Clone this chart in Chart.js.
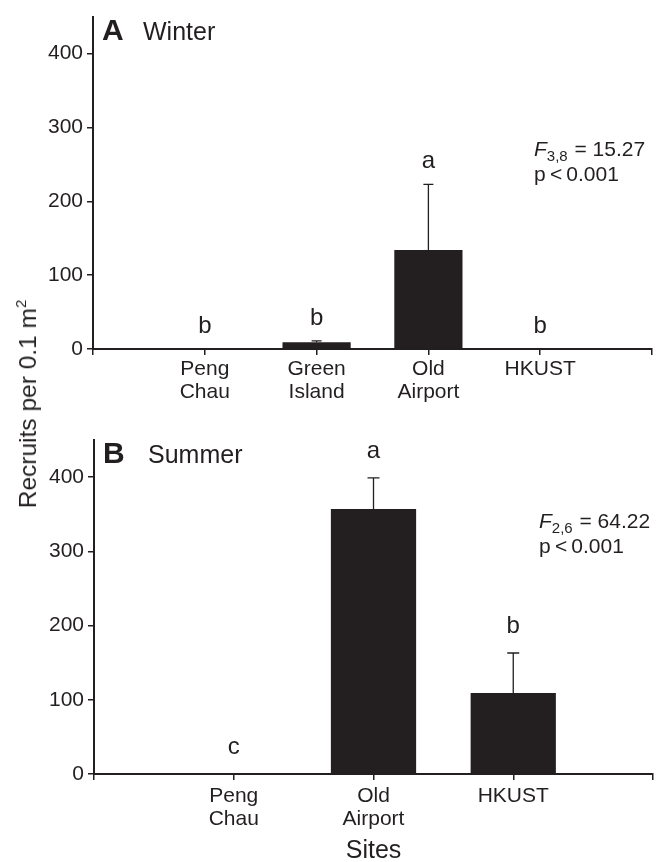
<!DOCTYPE html>
<html lang="en">
<head>
    <meta charset="UTF-8">
    <title>Recruits per site</title>
    <script src="https://cdn.jsdelivr.net/npm/chart.js"></script>
    <style>
        body { margin: 0; background: #fff; overflow: hidden; }
        #wrap { position: relative; width: 660px; height: 862px; overflow: hidden; font-family: "Liberation Sans", Arial, sans-serif; color: #231f20; }
        canvas { position: absolute; left: 0; }
        #ytitle {
            position: absolute; left: 27px; top: 404px;
            transform: translate(-50%, -50%) rotate(-90deg);
            white-space: nowrap; font-size: 24.5px;
        }
        #ytitle sup { font-size: 15px; vertical-align: 10px; }
    </style>
</head>
<body>
<div id="wrap">
    <canvas id="winter" width="660" height="410" style="top:0"></canvas>
    <canvas id="summer" width="660" height="446" style="top:420px"></canvas>
    <div id="ytitle">Recruits per 0.1 m<sup>2</sup></div>
</div>
<script>
    // data (mean and upper error)
    var winterSites = [['Peng', 'Chau'], ['Green', 'Island'], ['Old', 'Airport'], 'HKUST'];
    var winterMeans = [0, 9, 134, 0];
    var winterErrors = [0, 2, 89, 0];
    var winterLetters = ['b', 'b', 'a', 'b'];

    var summerSites = [['Peng', 'Chau'], ['Old', 'Airport'], 'HKUST'];
    var summerMeans = [0, 357, 109];
    var summerErrors = [0, 42, 54];
    var summerLetters = ['c', 'a', 'b'];

    var yTicks = [0, 100, 200, 300, 400];
    var yMax = 450;

    var ink = '#231f20';
    var fam = '"Liberation Sans", Arial, sans-serif';

    function makeChart(id, p) {
        // empty slots at both ends so the ticks sit like the original
        var labels = [''].concat(p.sites, ['']);
        var values = [null].concat(p.means, [null]);

        var extras = {
            id: 'extras',
            afterDatasetsDraw: function (chart) {
                var ctx = chart.ctx, x = chart.scales.x, y = chart.scales.y, area = chart.chartArea;
                ctx.save();
                ctx.strokeStyle = ink;
                ctx.fillStyle = ink;
                ctx.lineWidth = 1.3;
                for (var i = 0; i < p.means.length; i++) {
                    var px = x.getPixelForValue(i + 1);
                    var top = p.means[i] + p.errors[i];
                    if (p.errors[i] > 0) {
                        var y0 = y.getPixelForValue(p.means[i]), y1 = y.getPixelForValue(top);
                        ctx.beginPath();
                        ctx.moveTo(px, y0); ctx.lineTo(px, y1);
                        ctx.moveTo(px - p.cap, y1); ctx.lineTo(px + p.cap, y1);
                        ctx.stroke();
                    }
                    ctx.font = '24px ' + fam;
                    ctx.textAlign = 'center';
                    ctx.textBaseline = 'alphabetic';
                    ctx.fillText(p.letters[i], px, y.getPixelForValue(top) - p.gap);
                }
                // panel label
                ctx.textAlign = 'left';
                ctx.font = 'bold 30px ' + fam;
                ctx.fillText(p.panel, area.left + 9, area.top + 23);
                ctx.font = '25px ' + fam;
                ctx.fillText(p.season, area.left + p.seasonDx, area.top + 23);
                // test statistic
                var sx = area.left + p.statDx, sy = area.top + p.statDy;
                ctx.font = 'italic 21px ' + fam;
                ctx.fillText('F', sx, sy);
                var w = ctx.measureText('F').width;
                ctx.font = '15px ' + fam;
                ctx.fillText(p.df, sx + w, sy + 5);
                w += ctx.measureText(p.df).width;
                ctx.font = '21px ' + fam;
                ctx.fillText(' = ' + p.fval, sx + w + 1, sy);
                ctx.fillText('p\u2009<\u20090.001', sx, sy + 25);
                ctx.restore();
            }
        };

        return new Chart(document.getElementById(id).getContext('2d'), {
            type: 'bar',
            data: {
                labels: labels,
                datasets: [{
                    data: values,
                    backgroundColor: ink,
                    borderWidth: 0,
                    barPercentage: 0.61,
                    categoryPercentage: 1
                }]
            },
            options: {
                responsive: false,
                animation: false,
                layout: { padding: { top: p.padTop, right: p.padRight, left: 0, bottom: 0 } },
                plugins: { legend: { display: false }, tooltip: { enabled: false } },
                scales: {
                    x: {
                        offset: false,
                        grid: { offset: false, drawOnChartArea: false, drawTicks: true, tickLength: 6, color: ink, lineWidth: 1.5 },
                        border: { display: true, color: ink, width: 2 },
                        ticks: {
                            autoSkip: false, maxRotation: 0, padding: p.labelPad,
                            color: ink, font: { family: fam, size: 21, lineHeight: 1.1 }
                        },
                        title: {
                            display: !!p.xTitle, text: p.xTitle, color: ink,
                            font: { family: fam, size: 25 }, padding: 0
                        },
                        afterFit: function (s) { s.height = p.xHeight; }
                    },
                    y: {
                        min: 0,
                        max: yMax,
                        grid: { drawOnChartArea: false, drawTicks: true, tickLength: 6, color: ink, lineWidth: 1.5 },
                        border: { display: true, color: ink, width: 2 },
                        ticks: {
                            includeBounds: false, padding: 4,
                            color: ink, font: { family: fam, size: 21 }
                        },
                        afterBuildTicks: function (s) { s.ticks = yTicks.map(function (v) { return { value: v }; }); },
                        afterFit: function (s) { s.width = p.yWidth; }
                    }
                }
            },
            plugins: [extras]
        });
    }

    makeChart('winter', {
        sites: winterSites, means: winterMeans, errors: winterErrors, letters: winterLetters,
        panel: 'A', season: 'Winter', seasonDx: 50, df: '3,8', fval: '15.27',
        statDx: 441, statDy: 139, cap: 5, gap: 16,
        padTop: 14, padRight: 8, xHeight: 61, yWidth: 93, labelPad: 3, xTitle: ''
    });

    makeChart('summer', {
        sites: summerSites, means: summerMeans, errors: summerErrors, letters: summerLetters,
        panel: 'B', season: 'Summer', seasonDx: 54, df: '2,6', fval: '64.22',
        statDx: 445, statDy: 88, cap: 6, gap: 20,
        padTop: 20, padRight: 7, xHeight: 92, yWidth: 94, labelPad: 5, xTitle: 'Sites'
    });
</script>
</body>
</html>
